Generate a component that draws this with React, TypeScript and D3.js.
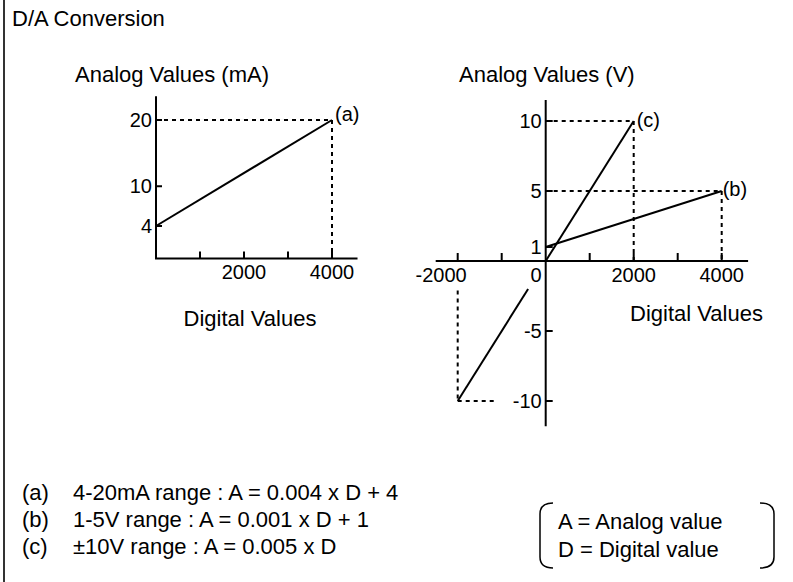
import React from "react";
import * as d3 from "d3";

// ---------- data ----------
const leftXTicks = [1000, 2000, 3000, 4000];
const leftXLabels = [2000, 4000];
const leftYTicks = [4, 10, 20];
const lineA: [number, number][] = [[0, 4], [4000, 20]];

const rightXTicks = [-2000, -1000, 1000, 2000, 3000, 4000];
const rightXLabels = [-2000, 0, 2000, 4000];
const rightYTicks = [10, 5, 1, -5, -10];
const lineB: [number, number][] = [[0, 1], [4000, 5]];
const lineCUpper: [number, number][] = [[0, 0], [2000, 10]];
const lineCLower: [number, number][] = [[-2000, -10], [-400, -2]];

const formulaTags = ["(a)", "(b)", "(c)"];
const formulaTexts = [
  "4-20mA range : A = 0.004 x D + 4",
  "1-5V range : A = 0.001 x D + 1",
  "\u00b110V range : A = 0.005 x D",
];
const legendLines = ["A = Analog value", "D = Digital value"];

// ---------- layout ----------
const W = 793;
const H = 582;
const FONT = "'Liberation Sans', Arial, Helvetica, sans-serif";

const xL = d3.scaleLinear().domain([0, 4000]).range([156, 332]);
const yL = d3.scaleLinear().domain([4, 20]).range([226, 120]);
const xR = d3.scaleLinear().domain([0, 4000]).range([545.7, 721.7]);
const yR = d3.scaleLinear().domain([-10, 10]).range([401, 121]);

const lineL = d3.line<[number, number]>().x((d) => xL(d[0])).y((d) => yL(d[1]));
const lineRt = d3.line<[number, number]>().x((d) => xR(d[0])).y((d) => yR(d[1]));

const dash = { stroke: "#000", strokeWidth: 2, strokeDasharray: "4 4", fill: "none" } as const;
const solid = { stroke: "#000", strokeWidth: 2, fill: "none" } as const;

export default function App() {
  const lx0 = xL(0), lxEnd = xL(4580);
  const lyAxis = yL(-0.9), lyTop = yL(23.6);
  const rx0 = xR(-2500), rxEnd = xR(4600);
  const ry0 = yR(0), ryTop = yR(11.5), ryBot = yR(-11.8);

  return (
    <svg
      width={W}
      height={H}
      viewBox={`0 0 ${W} ${H}`}
      style={{ position: "absolute", left: 0, top: 0, background: "#fff" }}
      fontFamily={FONT}
    >
      <rect x={0} y={0} width={W} height={H} fill="#fff" />
      <line x1={4} y1={0} x2={4} y2={H} stroke="#333" strokeWidth={2} />

      <text x={12} y={26} fontSize={22}>D/A Conversion</text>

      {/* ---------- left chart ---------- */}
      <text x={75} y={82} fontSize={22}>Analog Values (mA)</text>
      <line x1={lx0} y1={lyTop} x2={lx0} y2={lyAxis} {...solid} />
      <line x1={lx0 - 1} y1={lyAxis} x2={lxEnd} y2={lyAxis} {...solid} />
      {leftXTicks.map((t) => (
        <line key={t} x1={xL(t)} x2={xL(t)} y1={lyAxis} y2={lyAxis - 7} {...solid} />
      ))}
      {leftXLabels.map((t) => (
        <text key={t} x={xL(t)} y={lyAxis + 21} fontSize={20} textAnchor="middle">{t}</text>
      ))}
      {leftYTicks.map((t) => (
        <g key={t}>
          <line x1={lx0} x2={lx0 + 6} y1={yL(t)} y2={yL(t)} {...solid} />
          <text x={lx0 - 4} y={yL(t) + 7} fontSize={20} textAnchor="end">{t}</text>
        </g>
      ))}
      <line x1={lx0} x2={xL(4000)} y1={yL(20)} y2={yL(20)} {...dash} />
      <line x1={xL(4000)} x2={xL(4000)} y1={yL(20)} y2={lyAxis} {...dash} />
      <path d={lineL(lineA) ?? ""} {...solid} />
      <text x={xL(4000) + 3} y={yL(20) + 1} fontSize={20}>(a)</text>
      <text x={250} y={326} fontSize={22} textAnchor="middle">Digital Values</text>

      {/* ---------- right chart ---------- */}
      <text x={459} y={82} fontSize={22}>Analog Values (V)</text>
      <line x1={xR(0)} y1={ryTop} x2={xR(0)} y2={ryBot} {...solid} />
      <line x1={rx0} y1={ry0} x2={rxEnd} y2={ry0} {...solid} />
      {rightXTicks.map((t) => (
        <line key={t} x1={xR(t)} x2={xR(t)} y1={ry0} y2={ry0 - 8} {...solid} />
      ))}
      {rightXLabels.map((t) => {
        let x = xR(t);
        let anchor: "middle" | "end" = "middle";
        if (t === 0) { x = xR(0) - 4; anchor = "end"; }
        if (t < 0) { x = xR(t) + 9; anchor = "end"; }
        return (
          <text key={t} x={x} y={ry0 + 21} fontSize={20} textAnchor={anchor}>{t}</text>
        );
      })}
      {rightYTicks.map((t) => (
        <g key={t}>
          <line x1={xR(0)} x2={xR(0) + 7} y1={yR(t)} y2={yR(t)} {...solid} />
          <text x={xR(0) - 4} y={yR(t) + 7} fontSize={20} textAnchor="end">{t}</text>
        </g>
      ))}
      <line x1={xR(0)} x2={xR(2000)} y1={yR(10)} y2={yR(10)} {...dash} />
      <line x1={xR(2000)} x2={xR(2000)} y1={yR(10)} y2={ry0} {...dash} />
      <line x1={xR(0)} x2={xR(4000)} y1={yR(5)} y2={yR(5)} {...dash} />
      <line x1={xR(4000)} x2={xR(4000)} y1={yR(5)} y2={ry0} {...dash} />
      <line x1={xR(-2000)} x2={xR(-2000)} y1={yR(-2.1)} y2={yR(-10)} {...dash} />
      <line x1={xR(-2000)} x2={xR(-1140)} y1={yR(-10)} y2={yR(-10)} {...dash} />
      <path d={lineRt(lineB) ?? ""} {...solid} />
      <path d={lineRt(lineCUpper) ?? ""} {...solid} />
      <path d={lineRt(lineCLower) ?? ""} {...solid} />
      <text x={xR(2000) + 3} y={yR(10) + 6} fontSize={20}>(c)</text>
      <text x={xR(4000) + 1} y={yR(5) + 5} fontSize={20}>(b)</text>
      <text x={630} y={321} fontSize={22}>Digital Values</text>

      {/* ---------- formulas ---------- */}
      {formulaTexts.map((f, i) => (
        <g key={i}>
          <text x={22} y={500 + i * 27} fontSize={22}>{formulaTags[i]}</text>
          <text x={73} y={500 + i * 27} fontSize={22}>{f}</text>
        </g>
      ))}

      {/* ---------- legend ---------- */}
      <path d="M553,503 Q540,503 540,514 L540,557 Q540,568 553,568" stroke="#000" strokeWidth={1.5} fill="none" />
      <path d="M760,503 Q774,503 774,514 L774,557 Q774,568 760,568" stroke="#000" strokeWidth={1.5} fill="none" />
      {legendLines.map((l, i) => (
        <text key={i} x={558} y={529 + i * 28} fontSize={22}>{l}</text>
      ))}
    </svg>
  );
}
